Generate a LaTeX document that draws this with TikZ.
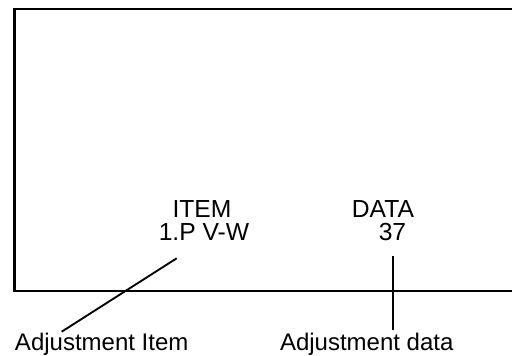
\documentclass[tikz,border=0pt]{standalone}
\usepackage{fontspec}
\setmainfont{Liberation Sans}
\begin{document}
\begin{tikzpicture}[x=0.75pt,y=-0.75pt,
  lbl/.style={inner sep=0pt,outer sep=0pt,font=\fontsize{18.5pt}{22pt}\selectfont,anchor=base},
  sublbl/.style={inner sep=0pt,outer sep=0pt,font=\fontsize{18pt}{22pt}\selectfont,anchor=base west},
  frameline/.style={line width=1.5pt,line join=miter},
  leader/.style={line width=1.4pt}]
\useasboundingbox (0,0) rectangle (512,356);
% screen frame (right side runs off the picture)
\draw[frameline] (513,9) -- (14.5,9) -- (14.5,291) -- (513,291);
% texts on the screen
\node[lbl] (item) at (202,218) {ITEM};
\node[lbl] (itemval) at (204,241) {1.P V-W};
\node[lbl] (data) at (383,218) {DATA};
\node[lbl] (dataval) at (392.5,241) {37};
% callout labels
\node[sublbl] (adjitem) at (15,351) {Adjustment Item};
\node[sublbl] (adjdata) at (280,351) {Adjustment data};
% leader lines
\coordinate (itemtop) at (176.7,258.3);
\coordinate (itembot) at (61.7,331.7);
\coordinate (datatop) at (392.7,256);
\coordinate (databot) at (392.7,330);
\draw[leader] (itemtop) -- (itembot);
\draw[leader] (datatop) -- (databot);
\end{tikzpicture}
\end{document}
